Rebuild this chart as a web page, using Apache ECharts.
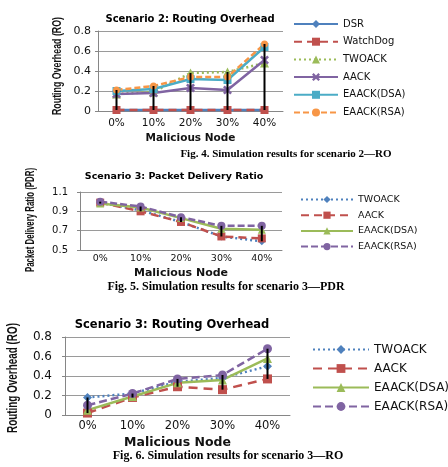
<!DOCTYPE html>
<html>
<head>
<meta charset="utf-8">
<script src="https://cdn.jsdelivr.net/npm/echarts@6/dist/echarts.min.js"></script>
<style>
  html, body { margin: 0; padding: 0; background: #fff; }
  #main { width: 448px; height: 467px; }
</style>
</head>
<body>
<div id="main"></div>
<script>
// categories
var categories = ['0%', '10%', '20%', '30%', '40%'];

// Scenario 2: Routing Overhead
var s2DSR = [0.01, 0.01, 0.01, 0.01, 0.01];
var s2WatchDog = [0.01, 0.01, 0.01, 0.01, 0.01];
var s2TWOACK = [0.17, 0.19, 0.38, 0.39, 0.48];
var s2AACK = [0.17, 0.18, 0.23, 0.21, 0.51];
var s2DSA = [0.20, 0.22, 0.32, 0.31, 0.64];
var s2RSA = [0.21, 0.25, 0.34, 0.34, 0.67];

// Scenario 3: Packet Delivery Ratio
var p3TWOACK = [0.99, 0.91, 0.79, 0.64, 0.59];
var p3AACK = [0.99, 0.90, 0.79, 0.64, 0.62];
var p3DSA = [0.98, 0.94, 0.83, 0.72, 0.71];
var p3RSA = [1.00, 0.95, 0.84, 0.75, 0.75];

// Scenario 3: Routing Overhead
var r3TWOACK = [0.18, 0.22, 0.34, 0.38, 0.50];
var r3AACK = [0.02, 0.18, 0.29, 0.26, 0.37];
var r3DSA = [0.05, 0.19, 0.33, 0.36, 0.58];
var r3RSA = [0.10, 0.22, 0.37, 0.41, 0.68];

// PDR axis is drawn from 0.5, shifted so ticks start at a multiple of the interval
var pdrBase = 0.5;

var BLUE = '#4F81BD', RED = '#C0504D', GREEN = '#9BBB59',
    PURPLE = '#8064A2', TEAL = '#4BACC6', ORANGE = '#F79646';
var XMARK = 'path://M2,0L5,3L8,0L10,2L7,5L10,8L8,10L5,7L2,10L0,8L3,5L0,2Z';
var TICKFONT = 'DejaVu Sans';

function line(name, data, idx, color, symbol, size, dash) {
    return {
        name: name,
        type: 'line',
        xAxisIndex: idx,
        yAxisIndex: idx,
        data: data,
        symbol: symbol,
        symbolSize: size,
        lineStyle: { color: color, width: 2.5, type: dash },
        itemStyle: { color: color },
        animation: false
    };
}

// black high-low lines joining min and max of all series at each category
function hiLo(idx, seriesList, shift) {
    var data = categories.map(function (c, i) {
        var vals = seriesList.map(function (s) { return s[i] - shift; });
        return [i, Math.min.apply(null, vals), Math.max.apply(null, vals)];
    });
    return {
        type: 'custom',
        xAxisIndex: idx,
        yAxisIndex: idx,
        silent: true,
        z: 5,
        encode: { x: 0, y: [1, 2] },
        data: data,
        renderItem: function (params, api) {
            var a = api.coord([api.value(0), api.value(1)]);
            var b = api.coord([api.value(0), api.value(2)]);
            return {
                type: 'line',
                shape: { x1: a[0], y1: a[1], x2: b[0], y2: b[1] },
                style: { stroke: '#000', lineWidth: 2 }
            };
        }
    };
}

function xAx(idx, fs, margin, nameFs, nameGap) {
    return {
        type: 'category', gridIndex: idx, data: categories,
        axisLine: { lineStyle: { color: '#868686' } },
        axisTick: { show: false },
        axisLabel: { color: '#111', fontFamily: TICKFONT, fontSize: fs, margin: margin },
        name: 'Malicious Node', nameLocation: 'middle', nameGap: nameGap,
        nameTextStyle: { color: '#111', fontFamily: TICKFONT, fontWeight: 'bold', fontSize: nameFs }
    };
}

function yAx(idx, max, fs, margin, fmt) {
    return {
        type: 'value', gridIndex: idx, min: 0, max: max, interval: 0.2,
        axisLine: { show: true, lineStyle: { color: '#868686' } },
        axisTick: { show: true, length: 3, lineStyle: { color: '#868686' } },
        splitLine: { lineStyle: { color: '#9a9a9a', width: 1 } },
        axisLabel: { color: '#111', fontFamily: TICKFONT, fontSize: fs, margin: margin, formatter: fmt }
    };
}

function legend(idx, names, left, top, w, h, gap, fs) {
    return {
        orient: 'vertical', left: left, top: top, padding: 0,
        itemWidth: w, itemHeight: h, itemGap: gap,
        data: names,
        textStyle: { color: '#111', fontFamily: TICKFONT, fontSize: fs, lineHeight: h }
    };
}

function txt(text, x, y, font) {
    return {
        type: 'text', x: x, y: y,
        style: { text: text, font: font, fill: '#000', textAlign: 'center', textVerticalAlign: 'middle' }
    };
}

// rotated, horizontally squeezed axis title (the source uses a condensed face)
var measureCtx = document.createElement('canvas').getContext('2d');
function yTitle(text, x, y, font, length) {
    measureCtx.font = font;
    var k = length / measureCtx.measureText(text).width;
    return {
        type: 'text', x: x, y: y, rotation: Math.PI / 2, scaleX: k,
        style: { text: text, font: font, fill: '#111', textAlign: 'center', textVerticalAlign: 'middle' }
    };
}

var chartDom = document.getElementById('main');
var myChart = echarts.init(chartDom);

var shifted = function (arr) { return arr.map(function (v) { return +(v - pdrBase).toFixed(3); }); };

var option = {
    backgroundColor: '#fff',
    animation: false,
    grid: [
        { left: 98, top: 31, width: 185, height: 80 },
        { left: 80, top: 192, width: 202, height: 58 },
        { left: 65, top: 337, width: 225, height: 78 }
    ],
    xAxis: [
        xAx(0, 10.5, 7, 10.5, 22),
        xAx(1, 9.5, 4, 11, 18),
        xAx(2, 11.5, 5, 12.5, 21)
    ],
    yAxis: [
        yAx(0, 0.8, 11, 7),
        yAx(1, 0.6, 10, 12, function (v) { return (v + pdrBase).toFixed(1); }),
        yAx(2, 0.8, 12, 13)
    ],
    legend: [
        legend(0, ['DSR', 'WatchDog', 'TWOACK', 'AACK', 'EAACK(DSA)', 'EAACK(RSA)'], 293, 19, 44, 10, 7.7, 10),
        legend(1, ['TWOACK ', 'AACK ', 'EAACK(DSA) ', 'EAACK(RSA) '], 300, 194.5, 52, 9, 5.7, 9.5),
        legend(2, ['TWOACK  ', 'AACK  ', 'EAACK(DSA)  ', 'EAACK(RSA)  '], 312, 343.5, 56, 11, 7, 12)
    ],
    graphic: [
        txt('Scenario 2: Routing Overhead', 190, 19, 'bold 10px "DejaVu Sans"'),
        txt('Scenario 3: Packet Delivery Ratio', 174, 177, 'bold 9.5px "DejaVu Sans"'),
        txt('Scenario 3: Routing Overhead', 172, 325, 'bold 11.5px "DejaVu Sans"'),
        yTitle('Routing Overhead (RO)', 57, 66, 'bold 13px "Liberation Sans"', 98),
        yTitle('Packet Delivery Ratio (PDR)', 31, 220, 'bold 12.5px "Liberation Sans"', 104),
        yTitle('Routing Overhead (RO)', 13, 378, 'bold 14px "Liberation Sans"', 110),
        txt('Fig. 4. Simulation results for scenario 2\u2014RO', 286, 154, 'bold 11px "Liberation Serif"'),
        txt('Fig. 5. Simulation results for scenario 3\u2014PDR', 226, 287, 'bold 12px "Liberation Serif"'),
        txt('Fig. 6. Simulation results for scenario 3\u2014RO', 228, 456, 'bold 12px "Liberation Serif"')
    ],
    series: [
        line('DSR', s2DSR, 0, BLUE, 'diamond', 8, 'solid'),
        line('WatchDog', s2WatchDog, 0, RED, 'rect', 8, [8, 5]),
        line('TWOACK', s2TWOACK, 0, GREEN, 'triangle', 9, [2, 3]),
        line('AACK', s2AACK, 0, PURPLE, XMARK, 9, 'solid'),
        line('EAACK(DSA)', s2DSA, 0, TEAL, 'rect', 8, 'solid'),
        line('EAACK(RSA)', s2RSA, 0, ORANGE, 'circle', 7, [6, 3]),
        hiLo(0, [s2DSR, s2WatchDog, s2TWOACK, s2AACK, s2DSA, s2RSA], 0),

        line('TWOACK ', shifted(p3TWOACK), 1, BLUE, 'diamond', 8, [2, 3]),
        line('AACK ', shifted(p3AACK), 1, RED, 'rect', 8, [8, 5]),
        line('EAACK(DSA) ', shifted(p3DSA), 1, GREEN, 'triangle', 8, 'solid'),
        line('EAACK(RSA) ', shifted(p3RSA), 1, PURPLE, 'circle', 8, [7, 3]),
        hiLo(1, [p3TWOACK, p3AACK, p3DSA, p3RSA], pdrBase),

        line('TWOACK  ', r3TWOACK, 2, BLUE, 'diamond', 9, [2, 3]),
        line('AACK  ', r3AACK, 2, RED, 'rect', 9, [9, 6]),
        line('EAACK(DSA)  ', r3DSA, 2, GREEN, 'triangle', 9, 'solid'),
        line('EAACK(RSA)  ', r3RSA, 2, PURPLE, 'circle', 9, [8, 4]),
        hiLo(2, [r3TWOACK, r3AACK, r3DSA, r3RSA], 0)
    ]
};

option && myChart.setOption(option);
</script>
</body>
</html>
